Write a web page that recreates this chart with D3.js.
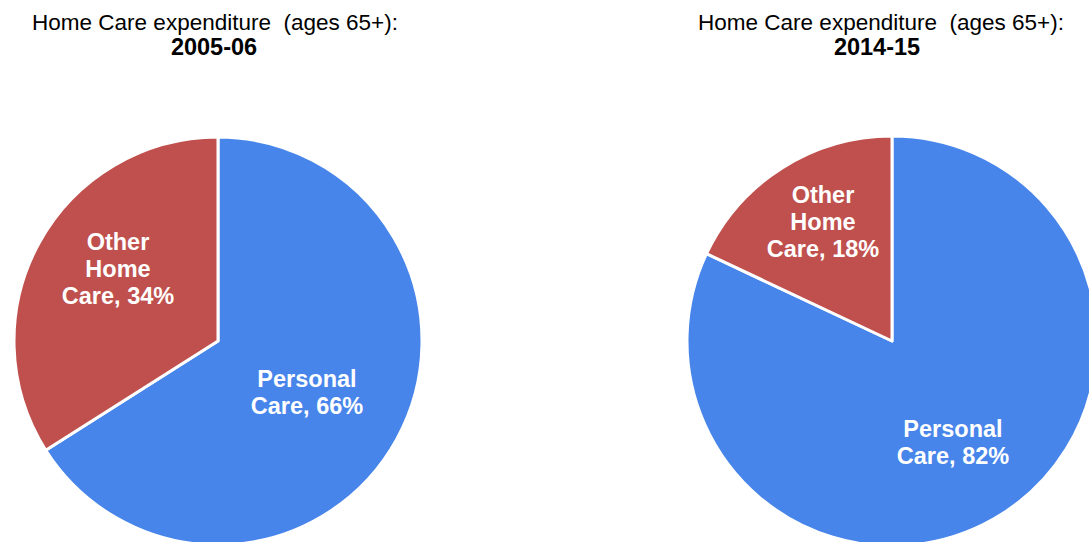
<!DOCTYPE html>
<html><head><meta charset="utf-8">
<script src="https://cdn.jsdelivr.net/npm/d3@7"></script>
<style>
html,body{margin:0;padding:0;background:#fff;overflow:hidden}
text{font-family:"Liberation Sans",Arial,sans-serif}
</style></head>
<body><svg id="c" width="1089" height="542"></svg>
<script>
const categories = ["Personal Care", "Other Home Care"];
const labelLines = [["Personal", "Care, "], ["Other", "Home", "Care, "]];
const values2005 = [66, 34];
const values2015 = [82, 18];
const years = ["2005-06", "2014-15"];
const titleText = "Home Care expenditure  (ages 65+):";
const colors = ["#4785EB", "#C0504D"];

const svg = d3.select("#c");
// layout: pie centre/radius, title centre, label centre offsets (best-fit placement)
const pies = [
  {values: values2005, year: years[0], cx: 218, cy: 341, r: 204, tx: 215, yx: 214,
   lab: [[89, 51.5], [-100, -72]]},
  {values: values2015, year: years[1], cx: 892, cy: 341, r: 205, tx: 881, yx: 877,
   lab: [[61, 101.5], [-69, -119]]}
];
const pie = d3.pie().sort(null).value(d => d);
const color = d3.scaleOrdinal().domain(categories).range(colors);

pies.forEach(p => {
  const g = svg.append("g").attr("transform", `translate(${p.cx},${p.cy})`);
  const arc = d3.arc().innerRadius(0).outerRadius(p.r);
  const arcs = pie(p.values);
  g.selectAll("path").data(arcs).join("path")
    .attr("d", arc)
    .attr("fill", (d, i) => color(categories[i]))
    .attr("stroke", "#fff").attr("stroke-width", 3).attr("stroke-linejoin", "round");
  arcs.forEach((d, i) => {
    const [x, y] = p.lab[i];
    const lines = labelLines[i].slice();
    lines[lines.length - 1] = lines[lines.length - 1] + p.values[i] + "%";
    const t = g.append("text").attr("text-anchor", "middle").attr("fill", "#fff")
      .attr("font-weight", "bold").attr("font-size", 23.5);
    const lh = 27;
    const y0 = y - (lines.length - 1) * lh / 2 + 8;
    lines.forEach((ln, k) => t.append("tspan").attr("x", x).attr("y", y0 + k * lh).text(ln));
  });
  svg.append("text").attr("x", p.tx).attr("y", 30).attr("text-anchor", "middle")
    .attr("font-size", 22.5).attr("fill", "#000").style("white-space", "pre").text(titleText);
  svg.append("text").attr("x", p.yx).attr("y", 55).attr("text-anchor", "middle")
    .attr("font-size", 23.5).attr("font-weight", "bold").attr("fill", "#000").text(p.year);
});
</script></body></html>
